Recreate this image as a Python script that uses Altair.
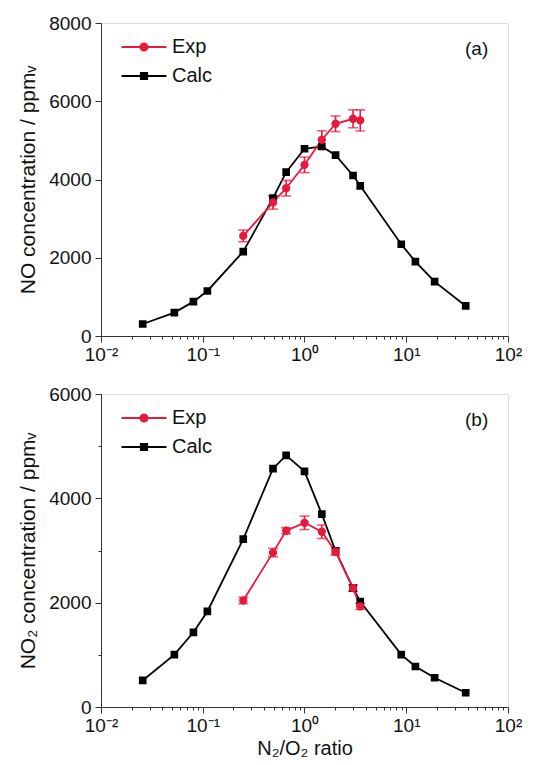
import altair as alt
import pandas as pd

# ---- data ----
ratio_calc = [0.0257, 0.0526, 0.081, 0.111, 0.25, 0.49, 0.66, 1.0, 1.48, 2.02, 3.0, 3.53, 8.93, 12.3, 19.0, 38.4]
no_calc = [307, 597, 878, 1151, 2158, 3522, 4188, 4785, 4844, 4623, 4102, 3838, 2345, 1902, 1390, 768]
no2_calc = [509, 1005, 1432, 1832, 3219, 4568, 4823, 4517, 3697, 2990, 2278, 2023, 1005, 776, 560, 274]

ratio_exp = [0.25, 0.49, 0.66, 1.0, 1.48, 2.02, 3.0, 3.53]
no_exp = [2559, 3412, 3778, 4375, 5015, 5424, 5552, 5510]
no_exp_err = [150, 170, 200, 200, 230, 200, 230, 270]
no2_exp = [2042, 2959, 3379, 3531, 3359, 2978, 2278, 1928]
no2_exp_err = [60, 80, 60, 130, 130, 70, 60, 60]

series = ["Exp", "Calc"]
colors = ["#E8193C", "#000000"]
x_tick_labels = ["10⁻²", "10⁻¹", "10⁰", "10¹", "10²"]
x_ticks = [m * 10.0 ** d for d in range(-2, 2) for m in range(1, 10)] + [100.0]

FONT = "Liberation Sans"
W, H = 407, 313

legend_shapes = [
    "M-2.25,0H2.25M0.36,0A0.36,0.36 0 1 1 -0.36,0A0.36,0.36 0 1 1 0.36,0Z",
    "M-2.25,0H2.25M-0.32,-0.32H0.32V0.32H-0.32Z",
]


def panel(calc_y, exp_y, exp_err, ymax, ytitle, tag, xtitle=None):
    calc = pd.DataFrame({"ratio": ratio_calc, "conc": calc_y, "series": "Calc"})
    exp = pd.DataFrame({
        "ratio": ratio_exp,
        "conc": exp_y,
        "lo": [v - e for v, e in zip(exp_y, exp_err)],
        "hi": [v + e for v, e in zip(exp_y, exp_err)],
        "series": "Exp",
    })
    cs = alt.Scale(domain=series, range=colors)
    ss = alt.Scale(domain=series, range=legend_shapes)
    leg = alt.Legend(
        title=None, orient="none", legendX=32, legendY=13,
        symbolSize=400, symbolStrokeWidth=1.8,
        labelFontSize=20, labelFont=FONT, labelColor="#111",
        rowPadding=8, labelOffset=17,
    )
    xkw = dict(
        scale=alt.Scale(type="log", domain=[0.01, 100], nice=False),
        axis=alt.Axis(
            values=x_ticks, grid=False, labelFont=FONT, labelFontSize=19,
            labelColor="#111", domainColor="#333", tickColor="#333",
            labelExpr="abs(log(datum.value)/LN10 - round(log(datum.value)/LN10)) < 0.001 ? "
                      + str(x_tick_labels) + "[round(log(datum.value)/LN10)+2] : ''",
            tickSize={"condition": {"test": "abs(log(datum.value)/LN10 - round(log(datum.value)/LN10)) < 0.001",
                                    "value": 6}, "value": 3},
            labelPadding=3, titleFont=FONT, titleFontSize=20, titleFontWeight="normal",
            titleColor="#111", titlePadding=3, labelFlush=False,
        ),
    )
    xkw["title"] = xtitle if xtitle else ""
    x = alt.X("ratio:Q", **xkw)
    y = alt.Y(
        "conc:Q", title=ytitle,
        scale=alt.Scale(domain=[0, ymax], nice=False),
        axis=alt.Axis(
            values=list(range(0, ymax + 1, 1000)), grid=False, format="d",
            labelExpr="datum.value % 2000 == 0 ? datum.label : ''",
            tickSize={"condition": {"test": "datum.value % 2000 == 0", "value": 6}, "value": 3},
            labelFont=FONT, labelFontSize=19, labelColor="#111",
            domainColor="#333", tickColor="#333", labelPadding=4,
            titleFont=FONT, titleFontSize=21, titleFontWeight="normal", titleColor="#111",
            titlePadding=10,
        ),
    )
    fill = alt.Fill("series:N", scale=cs, legend=leg)
    stroke = alt.Stroke("series:N", scale=cs, legend=leg)
    shape = alt.Shape("series:N", scale=ss, legend=leg)

    calc_line = alt.Chart(calc).mark_line(strokeWidth=1.8).encode(x=x, y=y, stroke=stroke)
    calc_pts = alt.Chart(calc).mark_point(shape="square", size=32, filled=True, opacity=1).encode(
        x=x, y=y, fill=fill, stroke=stroke)
    exp_line = alt.Chart(exp).mark_line(strokeWidth=1.8).encode(x=x, y=y, stroke=stroke)
    exp_err_bar = alt.Chart(exp).mark_errorbar(ticks={"size": 10}, thickness=1.6, color=colors[0]).encode(
        x=x, y=alt.Y("lo:Q", title=ytitle), y2="hi:Q")
    exp_pts = alt.Chart(exp).mark_point(shape="circle", size=40, filled=True, opacity=1).encode(
        x=x, y=y, fill=fill, stroke=stroke)
    legend_layer = alt.Chart(calc).mark_point(filled=True, opacity=1).encode(
        x=x, y=y, fill=fill, stroke=stroke, shape=shape).transform_filter("false")
    tag_df = pd.DataFrame({"t": [tag]})
    tag_txt = alt.Chart(tag_df).mark_text(font=FONT, fontSize=19, color="#111", align="left",
                                          baseline="middle").encode(
        x=alt.value(W - 43), y=alt.value(26), text="t:N")
    return alt.layer(calc_line, exp_err_bar, exp_line, calc_pts, exp_pts, legend_layer, tag_txt).properties(
        width=W, height=H)


top = panel(no_calc, no_exp, no_exp_err, 8000, "NO concentration / ppmᵥ", "(a)")
bottom = panel(no2_calc, no2_exp, no2_exp_err, 6000, "NO₂ concentration / ppmᵥ", "(b)", "N₂/O₂ ratio")

chart = alt.vconcat(top, bottom, spacing=19).resolve_scale(
    fill="independent", stroke="independent", shape="independent").resolve_legend(
    fill="independent", stroke="independent", shape="independent").configure_view(
    stroke="#222", strokeWidth=1.2).configure(padding={"left": 9, "top": 5, "right": 5, "bottom": 5}).properties(
    background="white")

chart.save("out.html", embed_options={"renderer": "svg", "actions": False})
